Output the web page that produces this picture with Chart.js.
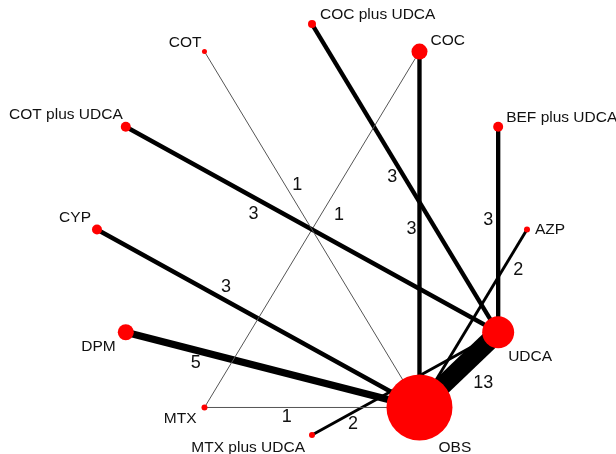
<!DOCTYPE html>
<html>
<head>
<meta charset="utf-8">
<script src="https://cdn.jsdelivr.net/npm/chart.js@4.4.1/dist/chart.umd.min.js"></script>
<style>
  body { margin: 0; background: #fff; }
  #wrap { width: 616px; height: 454px; }
</style>
</head>
<body>
<div id="wrap"><canvas id="net" width="616" height="454"></canvas></div>
<script>
// treatments placed on a circle (layout coords)
const nodes = ["COC plus UDCA", "COC", "BEF plus UDCA", "AZP", "UDCA", "OBS",
  "MTX plus UDCA", "MTX", "DPM", "CYP", "COT plus UDCA", "COT"];
const nodeX = [0, 0.5, 0.866, 1, 0.866, 0.5, 0, -0.5, -0.866, -1, -0.866, -0.5];
const nodeY = [1, 0.866, 0.5, 0, -0.5, -0.866, -1, -0.866, -0.5, 0, 0.5, 0.866];
const nodeSize = [4, 8, 5, 3, 16, 33, 3, 3, 8, 5, 5, 2.5];

// direct comparisons and number of studies
const edgeFrom = ["COT", "COT plus UDCA", "MTX", "COC plus UDCA", "COC", "BEF plus UDCA",
  "AZP", "CYP", "DPM", "MTX", "MTX plus UDCA", "UDCA"];
const edgeTo = ["OBS", "UDCA", "COC", "UDCA", "OBS", "UDCA",
  "OBS", "OBS", "OBS", "OBS", "UDCA", "OBS"];
const edgeStudies = [1, 3, 1, 3, 3, 3, 2, 3, 5, 1, 2, 13];

// where the text goes (layout only)
const nodeLabelPos = {
  "COC plus UDCA": [8, -9, "left"],
  "COC": [11, -11, "left"],
  "BEF plus UDCA": [8, -9, "left"],
  "AZP": [8, 0, "left"],
  "UDCA": [10, 24, "left"],
  "OBS": [19, 40, "left"],
  "MTX plus UDCA": [-7, 13, "right"],
  "MTX": [-8, 11, "right"],
  "DPM": [-10, 14, "right"],
  "CYP": [-6, -12, "right"],
  "COT plus UDCA": [-3, -12, "right"],
  "COT": [-3, -9, "right"]
};
const edgeLabelT = [0.376, 0.343, 0.542, 0.495, 0.5, 0.456, 0.23, 0.4, 0.238, 0.383, 0.22, 0.19];
const edgeLabelDx = [12, 0, 18, -12, -8, -10, 16, 0, 0, 0, 0, 0];
const edgeLabelDy = [0, 17, 0, 0, 0, 0, 0, -14, 13, 10, 12, 36];

const pt = (name) => {
  const i = nodes.indexOf(name);
  return { x: nodeX[i], y: nodeY[i] };
};

const edgeSets = edgeFrom.map((f, i) => ({
  type: "scatter",
  data: [pt(f), pt(edgeTo[i])],
  showLine: true,
  borderColor: edgeStudies[i] === 1 ? "#555" : "#000",
  borderWidth: edgeStudies[i] === 1 ? 1 : edgeStudies[i] * 1.45,
  borderCapStyle: "butt",
  pointRadius: 0,
  order: 2,
  clip: false
}));

const nodeSet = {
  type: "scatter",
  data: nodes.map((n) => pt(n)),
  pointRadius: nodeSize,
  pointBackgroundColor: "#ff0000",
  pointBorderWidth: 0,
  order: 1,
  clip: false
};

const labelsPlugin = {
  id: "netLabels",
  afterDatasetsDraw(chart) {
    const { ctx, scales } = chart;
    const px = (p) => ({ x: scales.x.getPixelForValue(p.x), y: scales.y.getPixelForValue(p.y) });
    ctx.save();
    ctx.fillStyle = "#111";
    ctx.textBaseline = "middle";

    // study counts on edges
    ctx.font = "18px 'Liberation Sans', Arial, sans-serif";
    ctx.textAlign = "center";
    edgeFrom.forEach((f, i) => {
      const a = px(pt(f));
      const b = px(pt(edgeTo[i]));
      const t = edgeLabelT[i];
      ctx.fillText(String(edgeStudies[i]),
        a.x + (b.x - a.x) * t + edgeLabelDx[i],
        a.y + (b.y - a.y) * t + edgeLabelDy[i]);
    });

    // treatment names
    ctx.font = "15.5px 'Liberation Sans', Arial, sans-serif";
    nodes.forEach((n) => {
      const p = px(pt(n));
      const [dx, dy, align] = nodeLabelPos[n];
      ctx.textAlign = align;
      ctx.fillText(n, p.x + dx, p.y + dy);
    });
    ctx.restore();
  }
};

new Chart(document.getElementById("net"), {
  type: "scatter",
  data: { datasets: [...edgeSets, nodeSet] },
  options: {
    responsive: false,
    animation: false,
    layout: { padding: 0, autoPadding: false },
    scales: {
      x: { display: false, min: -1.451, max: 1.414 },
      y: { display: false, min: -1.0924, max: 1.1168 }
    },
    plugins: {
      legend: { display: false },
      tooltip: { enabled: false }
    }
  },
  plugins: [labelsPlugin]
});
</script>
</body>
</html>
